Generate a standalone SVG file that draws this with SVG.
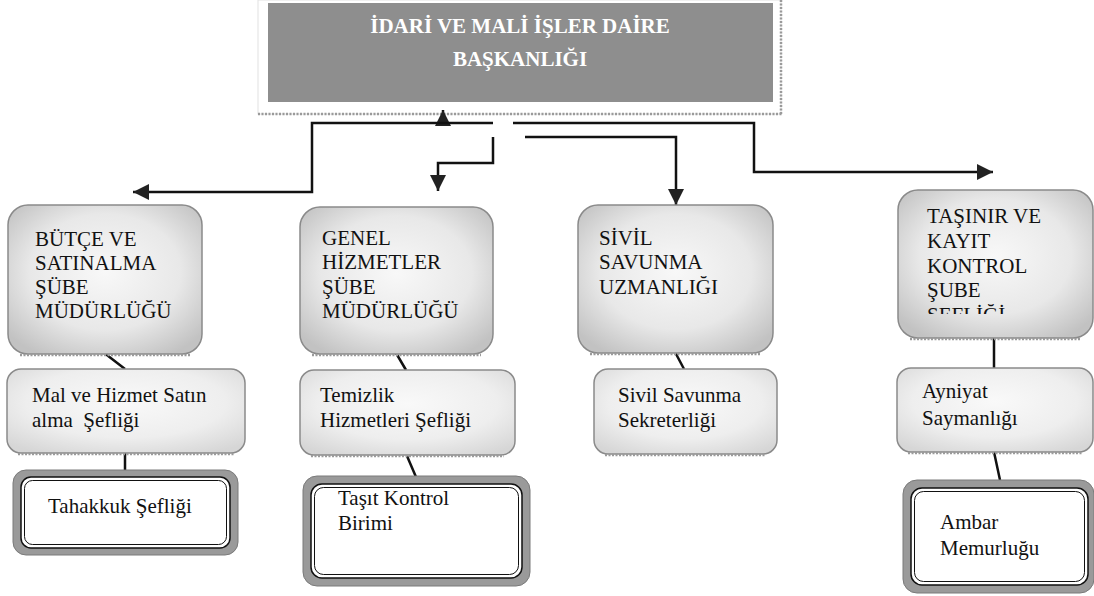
<svg xmlns="http://www.w3.org/2000/svg" width="1094" height="596" viewBox="0 0 1094 596">
<style>
.t{font-family:"Liberation Serif","Times New Roman",serif;font-size:21px;fill:#111}
.title{font-family:"Liberation Serif","Times New Roman",serif;font-size:21px;font-weight:bold;fill:#fff;text-anchor:middle}
.up{fill:url(#gUp);stroke:#8a8a8a;stroke-width:1.5}
.lo{fill:url(#gLo);stroke:#8a8a8a;stroke-width:1.5}
.sh{fill:none;stroke:#9a9a9a;stroke-width:2.5;stroke-dasharray:2 1.5}
.frame{fill:#9a9a9a;stroke:#7a7a7a;stroke-width:1}
.inner{fill:#fff;stroke:#111;stroke-width:1.5}
.inner2{fill:none;stroke:#111;stroke-width:1}
.c{fill:none;stroke:#111;stroke-width:2.5}
</style>
<defs>
<radialGradient id="gUp" cx="50%" cy="45%" r="65%">
<stop offset="0" stop-color="#f8f8f8"/>
<stop offset="0.6" stop-color="#e8e8e8"/>
<stop offset="1" stop-color="#c2c2c2"/>
</radialGradient>
<radialGradient id="gLo" cx="50%" cy="40%" r="70%">
<stop offset="0" stop-color="#f9f9f9"/>
<stop offset="0.6" stop-color="#eeeeee"/>
<stop offset="1" stop-color="#d6d6d6"/>
</radialGradient>
<marker id="ah" viewBox="0 0 10 10" refX="10" refY="5" markerUnits="userSpaceOnUse" markerWidth="16" markerHeight="16" orient="auto">
<path d="M0,0 L10,5 L0,10 z" fill="#222"/>
</marker>
<clipPath id="clipT"><rect x="898" y="190" width="196" height="124"/></clipPath>
</defs>
<rect width="1094" height="596" fill="#fff"/>

<g id="top">
<rect x="258" y="0" width="523" height="114" fill="#fff" stroke="#e2e2e2" stroke-width="1"/>
<rect x="268" y="3" width="505" height="99" fill="#8e8e8e"/>
<line x1="258" y1="114" x2="782" y2="114" class="sh" stroke="#8a8a8a"/>
<line x1="781" y1="0" x2="781" y2="115" class="sh" stroke="#8a8a8a"/>
<text class="title" x="520" y="33">İDARİ VE MALİ İŞLER DAİRE</text>
<text class="title" x="520" y="66">BAŞKANLIĞI</text>
</g>

<g id="connectors">
<path class="c" d="M443,124 V110" marker-end="url(#ah)"/>
<path class="c" d="M493,123 H312 V192 H133" marker-end="url(#ah)"/>
<path class="c" d="M493,137 V163 H438 V191" marker-end="url(#ah)"/>
<path class="c" d="M525,137 H676 V205" marker-end="url(#ah)"/>
<path class="c" d="M513,123 H754 V172 H993" marker-end="url(#ah)"/>
<path class="c" d="M103,352 L125,369 M125,453 V470"/>
<path class="c" d="M396,353 L406,370 M407,456 L416,477"/>
<path class="c" d="M675,352 L684,369"/>
<path class="c" d="M994,338 V368 M994,452 L1000,480"/>
</g>

<g id="butce">
<rect class="up" x="8" y="205" width="194" height="149" rx="20"/>
<path class="sh" d="M20,355 H190"/>
<text class="t" x="35" y="246">BÜTÇE VE</text>
<text class="t" x="35" y="270">SATINALMA</text>
<text class="t" x="35" y="294">ŞÜBE</text>
<text class="t" x="35" y="318">MÜDÜRLÜĞÜ</text>
</g>

<g id="genel">
<rect class="up" x="300" y="207" width="193" height="147" rx="20"/>
<path class="sh" d="M312,355 H481"/>
<text class="t" x="322" y="245">GENEL</text>
<text class="t" x="322" y="269">HİZMETLER</text>
<text class="t" x="322" y="294">ŞÜBE</text>
<text class="t" x="322" y="318">MÜDÜRLÜĞÜ</text>
</g>

<g id="sivil">
<rect class="up" x="578" y="205" width="195" height="148" rx="20"/>
<path class="sh" d="M590,354 H761"/>
<text class="t" x="599" y="245">SİVİL</text>
<text class="t" x="599" y="269">SAVUNMA</text>
<text class="t" x="599" y="294">UZMANLIĞI</text>
</g>

<g id="tasinir">
<rect class="up" x="898" y="190" width="195" height="148" rx="20"/>
<path class="sh" d="M910,339 H1081"/>
<g clip-path="url(#clipT)">
<text class="t" x="927" y="223">TAŞINIR VE</text>
<text class="t" x="927" y="248">KAYIT</text>
<text class="t" x="927" y="273">KONTROL</text>
<text class="t" x="927" y="297">ŞUBE</text>
<text class="t" x="927" y="322">ŞEFLİĞİ</text>
</g>
</g>

<g id="malhizmet">
<rect class="lo" x="7" y="369" width="238" height="84" rx="14"/>
<path class="sh" d="M18,454 H234"/>
<text class="t" x="32" y="402">Mal ve Hizmet Satın</text>
<text class="t" x="32" y="427" xml:space="preserve">alma  Şefliği</text>
</g>

<g id="temizlik">
<rect class="lo" x="300" y="370" width="215" height="85" rx="14"/>
<path class="sh" d="M311,456 H504"/>
<text class="t" x="320" y="402">Temizlik</text>
<text class="t" x="320" y="427">Hizmetleri Şefliği</text>
</g>

<g id="sekreterlik">
<rect class="lo" x="594" y="369" width="183" height="85" rx="14"/>
<path class="sh" d="M605,455 H766"/>
<text class="t" x="618" y="402">Sivil Savunma</text>
<text class="t" x="618" y="427">Sekreterliği</text>
</g>

<g id="ayniyat">
<rect class="lo" x="897" y="368" width="196" height="84" rx="14"/>
<path class="sh" d="M908,453 H1082"/>
<text class="t" x="922" y="398">Ayniyat</text>
<text class="t" x="922" y="425">Saymanlığı</text>
</g>

<g id="tahakkuk">
<rect class="frame" x="13" y="470" width="225" height="85" rx="13"/>
<rect class="inner" x="21" y="477" width="209" height="71" rx="10"/>
<rect class="inner2" x="24.5" y="480.5" width="202" height="64" rx="8"/>
<text class="t" x="48" y="513">Tahakkuk Şefliği</text>
</g>

<g id="tasit">
<rect class="frame" x="303" y="476" width="227" height="110" rx="14"/>
<rect class="inner" x="311" y="484" width="211" height="94" rx="11"/>
<rect class="inner2" x="314.5" y="487.5" width="204" height="87" rx="9"/>
<text class="t" x="338" y="505">Taşıt Kontrol</text>
<text class="t" x="338" y="530">Birimi</text>
</g>

<g id="ambar">
<rect class="frame" x="903" y="480" width="191" height="113" rx="14"/>
<rect class="inner" x="911" y="488" width="177" height="97" rx="11"/>
<rect class="inner2" x="914.5" y="491.5" width="170" height="90" rx="9"/>
<text class="t" x="940" y="529">Ambar</text>
<text class="t" x="940" y="555">Memurluğu</text>
</g>
</svg>
